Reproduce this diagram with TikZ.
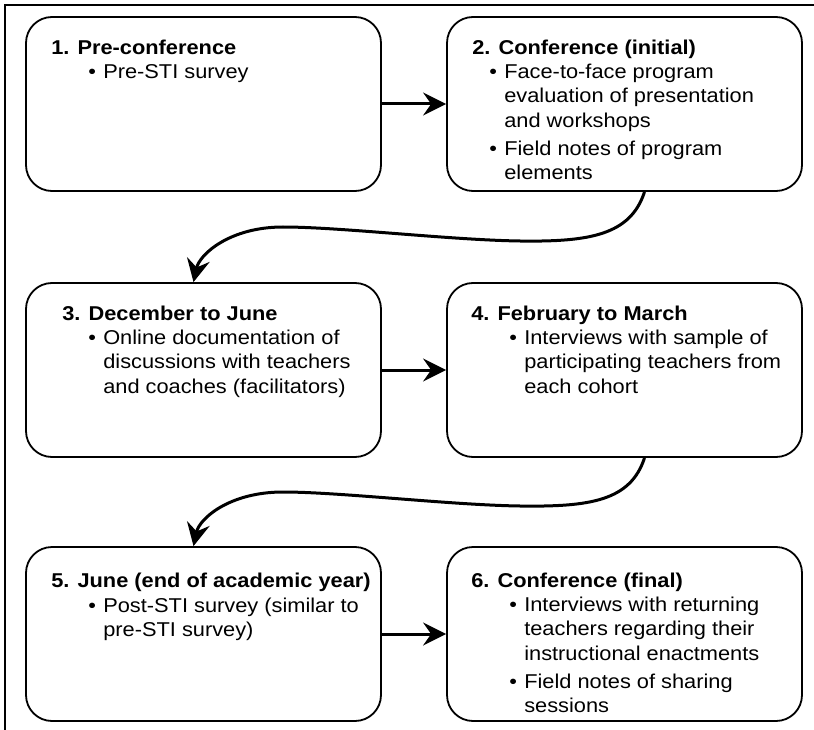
\documentclass[tikz,border=0pt]{standalone}
\usepackage{fontspec}
\setmainfont{Liberation Sans}[FakeStretch=1.09]
\usetikzlibrary{arrows.meta}

\tikzset{
  stage/.style={draw, line width=1.8pt, rounded corners=26pt,
    minimum width=355pt, minimum height=174pt, inner sep=0pt},
  stagetext/.style={anchor=north west, inner sep=0pt, align=left,
    font=\fontsize{20}{24.3}\selectfont},
  flow/.style={line width=3pt, -{Stealth[length=23pt,width=23pt,inset=8pt]}}
}
\newcommand{\bitem}[1]{\hspace*{#1}\makebox[15pt][l]{\textbullet}}
\newcommand{\bcont}[1]{\hspace*{\dimexpr#1+15pt\relax}}

\begin{document}
\begin{tikzpicture}[x=1pt, y=-1pt]
        \useasboundingbox (0,0) rectangle (814,730);
        \draw[line width=1.8pt] (5,730) -- (5,5) -- (814,5);
        % the six stages
        \node[stage] (b1) at (203.5,104) {};
        \node[stage] (b2) at (624.5,104) {};
        \node[stage] (b3) at (203.5,370) {};
        \node[stage] (b4) at (624.5,370) {};
        \node[stage] (b5) at (203.5,634) {};
        \node[stage] (b6) at (624.5,634) {};
        \node[stagetext] (t1) at ([shift={(26,23.5)}]b1.north west)
          {\bfseries 1. Pre-conference\\
           \bitem{37pt}Pre-STI survey};
        \node[stagetext] (t2) at ([shift={(26,23.5)}]b2.north west)
          {\bfseries 2. Conference (initial)\\
           \bitem{17pt}Face-to-face program\\
           \bcont{17pt}evaluation of presentation\\
           \bcont{17pt}and workshops\\[4pt]
           \bitem{17pt}Field notes of program\\
           \bcont{17pt}elements};
        \node[stagetext] (t3) at ([shift={(37,23.5)}]b3.north west)
          {\bfseries 3. December to June\\
           \bitem{26pt}Online documentation of\\
           \bcont{26pt}discussions with teachers\\
           \bcont{26pt}and coaches (facilitators)};
        \node[stagetext] (t4) at ([shift={(25,23.5)}]b4.north west)
          {\bfseries 4. February to March\\
           \bitem{38pt}Interviews with sample of\\
           \bcont{38pt}participating teachers from\\
           \bcont{38pt}each cohort};
        \node[stagetext] (t5) at ([shift={(26,27)}]b5.north west)
          {\bfseries 5. June (end of academic year)\\
           \bitem{37pt}Post-STI survey (similar to\\
           \bcont{37pt}pre-STI survey)};
        \node[stagetext] (t6) at ([shift={(25,26.5)}]b6.north west)
          {\bfseries 6. Conference (final)\\
           \bitem{38pt}Interviews with returning\\
           \bcont{38pt}teachers regarding their\\
           \bcont{38pt}instructional enactments\\[4pt]
           \bitem{38pt}Field notes of sharing\\
           \bcont{38pt}sessions};
        % arrows
        \draw[flow] (b1) -- (b2);
        \draw[flow] (b3) -- (b4);
        \draw[flow] (b5) -- (b6);
        \draw[flow] ([xshift=20pt]b2.south) .. controls +(-14,43) and +(70,1) .. (520,241)
          .. controls +(-70,-1) and +(57,0) .. (283,227)
          .. controls +(-53,0) and +(6,-28) .. ([xshift=-10pt]b3.north);
        \draw[flow] ([xshift=20pt]b4.south) .. controls +(-14,43) and +(70,1) .. (520,506)
          .. controls +(-70,-1) and +(57,0) .. (283,492)
          .. controls +(-53,0) and +(6,-28) .. ([xshift=-10pt]b5.north);
\end{tikzpicture}
\end{document}
